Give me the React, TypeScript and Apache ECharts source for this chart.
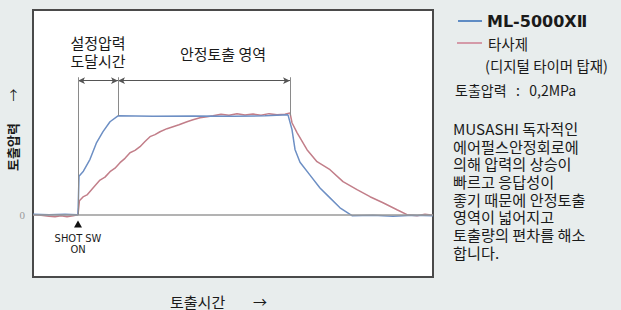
import React, { useEffect, useRef } from "react";
import * as echarts from "echarts";

// Time axis (arbitrary units, 0-100) and discharge pressure (% of set pressure)
const blueT = [0, 4, 8, 11, 11.25, 11.5, 12.6, 14.25, 15.9, 17.5, 19.25, 21.25, 30, 40, 50, 58, 63.75, 64.75, 65.5, 66.75, 69.25, 71.75, 74.25, 76.75, 79.75, 85, 90, 95, 100];
const blueP = [0.5, 0, 0.5, 0, 0, 39, 44, 56, 73, 84, 94, 100, 99.5, 99.8, 99.6, 100, 101, 86, 66, 53, 40, 27, 17, 7, -1, -0.5, -1.5, -0.5, -1];

const redT = [0, 2, 4, 5.5, 7, 8.5, 10, 11.25, 11.6, 12.5, 13.5, 15, 16.75, 18, 19.25, 20.5, 21.75, 23, 24.25, 25.5, 26.75, 28, 29.25, 30.5, 31.75, 33.5, 35, 36.5, 38.5, 40, 41.75, 43.5, 45, 47, 49, 51, 53, 55, 57, 59, 61, 63, 64.25, 64.75, 66, 68.5, 71, 74.25, 77.5, 81, 84.25, 87.5, 91, 93.5, 96, 98, 100];
const redP = [0, -0.5, -1.5, -2, -1, -2, -1, 0, 14, 18, 20, 27, 35, 38, 43.5, 47, 52.6, 57, 62.7, 65, 68.8, 74, 78.9, 81, 83.9, 87, 89, 91, 94, 96, 98, 99, 100, 101.5, 100.5, 102, 100.8, 101.8, 100.5, 102.2, 101, 101.5, 103, 93, 83, 65.7, 53.6, 45.5, 33.4, 25.3, 18.2, 12.1, 5, 0, -1, 0.5, -0.5];

const seriesNames = ["ML-5000XⅡ", "타사제"];
const legendSub = "(디지털 타이머 탑재)";
const shotTime = 11.25;
const reachTime = 21.25;
const endTime = 64.25;
const yTickLabels = [0];

const paragraph = [
  "MUSASHI 독자적인",
  "에어펄스안정회로에",
  "의해 압력의 상승이",
  "빠르고 응답성이",
  "좋기 때문에 안정토출",
  "영역이 넓어지고",
  "토출량의 편차를 해소",
  "합니다.",
];

const KR = '"Noto Sans CJK KR", "Noto Sans", sans-serif';

export default function App() {
  const ref = useRef<HTMLDivElement>(null);
  useEffect(() => {
    if (!ref.current) return;
    const chart = echarts.init(ref.current, null, { renderer: "svg" });
    const blue = blueT.map((t, i) => [t, blueP[i]]);
    const red = redT.map((t, i) => [t, redP[i]]);
    const lvl = 139;
    const arrowY = 135.5;
    const txt = (x: number, y: number, text: string, font: string, align = "left", extra: any = {}) => ({
      type: "text",
      x,
      y,
      ...extra,
      style: { text, font, fill: "#1a1a1a", textAlign: align, textVerticalAlign: "middle", lineHeight: 16 },
    });
    const lh = 17.7;
    chart.setOption({
      animation: false,
      backgroundColor: "#e8eded",
      grid: {
        left: 33,
        top: 10,
        width: 400,
        height: 267,
        show: true,
        backgroundColor: "#ffffff",
        borderColor: "#4a4a4a",
        borderWidth: 2,
      },
      xAxis: {
        type: "value",
        min: 0,
        max: 100,
        axisLine: { show: false },
        axisTick: { show: false },
        axisLabel: { show: false },
        splitLine: { show: false },
      },
      yAxis: {
        type: "value",
        min: -63,
        max: 207,
        axisLine: { show: false },
        axisTick: { show: false },
        splitLine: { show: false },
        axisLabel: {
          customValues: yTickLabels,
          color: "#9a9a9a",
          fontSize: 11,
          fontFamily: "serif",
          margin: 8,
        },
      },
      series: [
        {
          name: seriesNames[1],
          type: "line",
          data: red,
          showSymbol: false,
          lineStyle: { color: "#c27e89", width: 1.5 },
          z: 3,
          markLine: {
            silent: true,
            symbol: ["arrow", "arrow"],
            symbolSize: [5, 7],
            label: { show: false },
            lineStyle: { color: "#555", width: 1, type: "solid" },
            data: [
              [{ coord: [shotTime, arrowY] }, { coord: [reachTime, arrowY] }],
              [{ coord: [reachTime, arrowY] }, { coord: [endTime, arrowY] }],
            ],
          },
        },
        {
          name: seriesNames[0],
          type: "line",
          data: blue,
          showSymbol: false,
          lineStyle: { color: "#6d8fc4", width: 1.5 },
          z: 4,
          markLine: {
            silent: true,
            symbol: "none",
            label: { show: false },
            lineStyle: { color: "#8a8a8a", width: 1, type: "solid" },
            data: [
              { yAxis: 0, lineStyle: { color: "#9a9a9a", width: 1.5 } },
              [{ coord: [shotTime, 0] }, { coord: [shotTime, lvl] }],
              [{ coord: [reachTime, 100] }, { coord: [reachTime, lvl] }],
              [{ coord: [endTime, 100] }, { coord: [endTime, lvl] }],
            ],
          },
          markPoint: {
            silent: true,
            symbol: "triangle",
            symbolSize: [8, 7],
            itemStyle: { color: "#111" },
            label: { show: false },
            data: [{ coord: [shotTime, -9.5] }],
          },
        },
      ],
      graphic: [
        // annotation texts
        txt(98, 42, "설정압력", `15px ${KR}`, "center"),
        txt(98, 60, "도달시간", `15px ${KR}`, "center"),
        txt(223, 53, "안정토출 영역", `15px ${KR}`, "center"),
        // SHOT SW label
        txt(78, 238, "SHOT SW", '11px "Liberation Sans Narrow", "DejaVu Sans Condensed", sans-serif', "center"),
        txt(78, 249.5, "ON", '11px "Liberation Sans Narrow", "DejaVu Sans Condensed", sans-serif', "center"),
        // y axis title
        txt(12, 147, "토출압력", `bold 13px ${KR}`, "center", { rotation: Math.PI / 2 }),
        txt(12, 95, "→", `13px ${KR}`, "center", { rotation: Math.PI / 2 }),
        // x axis title
        txt(170, 301, "토출시간", `15px ${KR}`, "left"),
        txt(260, 301, "→", `14px ${KR}`, "center"),
        // legend
        { type: "line", shape: { x1: 458, y1: 21, x2: 482, y2: 21 }, style: { stroke: "#5f8cc4", lineWidth: 2 } },
        txt(487, 21, seriesNames[0], 'bold 16px "DejaVu Sans", sans-serif'),
        { type: "line", shape: { x1: 457, y1: 43, x2: 482, y2: 43 }, style: { stroke: "#d49aa8", lineWidth: 2 } },
        txt(488, 43, seriesNames[1], `14.5px ${KR}`),
        txt(485, 65, legendSub, `14.5px ${KR}`),
        txt(455, 90, "토출압력   :   0,2MPa", `14px ${KR}`),
        // paragraph (single multi-line block)
        {
          type: "text",
          x: 453,
          y: 128 - lh / 2,
          style: {
            text: paragraph.join("\n"),
            font: `15.2px ${KR}`,
            lineHeight: lh,
            fill: "#1a1a1a",
            textAlign: "left",
            textVerticalAlign: "top",
          },
        },
      ],
    });
    return () => chart.dispose();
  }, []);
  return (
    <div
      ref={ref}
      style={{ position: "fixed", left: 0, top: 0, width: 621, height: 310, background: "#e8eded" }}
    />
  );
}
